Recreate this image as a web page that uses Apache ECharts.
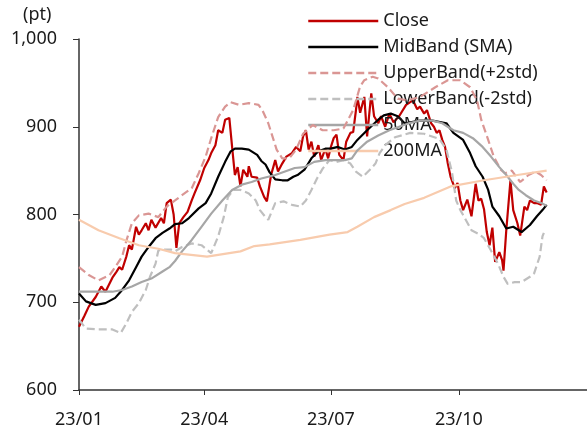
<!DOCTYPE html>
<html>
<head>
<meta charset="utf-8">
<script src="https://cdn.jsdelivr.net/npm/echarts@6/dist/echarts.min.js"></script>
<style>
  html, body { margin: 0; padding: 0; background: #fff; }
  #main { width: 587px; height: 432px; }
</style>
</head>
<body>
<div id="main"></div>
<script>
// days counted from 2023-01-01
const closeDays = [0,4,7,12,16,19,24,27,29,31, 34,36,38,41,43,45,48,50,52,55, 59,61,63,66,68,70,72,75,78,81,
  83,87,90,93,95,98,100,103,105,108, 110,112,114,116,118,121,122,124,128,130, 133,135,138,141,143,146,149,153,156,159,
  161,163,165,167,169,172,174,177,179,181, 183,185,187,190,192,195,197,199,200,202, 205,207,210,212,215,217,220,223,226,230,
  235,240,243,245,248,250,253,255,257,259, 261,263,265,267,270,272,274,276,279,282, 285,287,289,291,293,295,297,299,302,304,
  305,307,310,312,315,317,320,322,324,327, 329,332,334,336];
const closeVals = [672,685,695,706,718,712,728,735,740,737, 752,765,760,786,777,782,790,782,794,785, 796,790,813,817,800,762,790,797,803,816,
  824,839,853,862,870,879,896,893,908,910, 877,845,854,832,851,843,855,843,842,832, 820,815,845,862,849,858,866,870,877,872,
  889,896,874,883,866,879,862,875,864,877, 887,891,868,862,883,893,894,919,934,916, 934,889,938,912,904,912,900,915,905,912,
  925,930,920,923,915,919,904,900,893,896, 885,877,858,843,830,836,816,805,817,798, 835,816,818,806,780,765,785,746,757,748,
  736,782,839,805,790,776,809,805,816,813, 813,811,832,825];

const midDays = [0,5,12,19,26,31,36,41,45,50, 55,60,65,69,74,79,86,91,95,100, 105,109,112,117,122,128,131,134,137,141,
  146,150,154,157,162,167,172,177,181,186, 191,196,200,207,215,219,224,229,234,245, 254,264,269,276,281,285,290,294,297,302,
  307,312,318,324,329,333,336];
const midVals = [710,701,697,699,705,714,725,740,752,763, 773,779,784,789,790,796,807,813,824,843, 860,872,875,875,874,868,861,857,848,840,
  839,839,843,845,851,864,872,875,875,877, 874,877,885,896,908,913,915,912,904,907, 907,904,893,885,870,855,843,828,809,798,
  784,786,780,788,798,805,811];

const upperDays = [0,7,14,22,26,31,34,38,43,50, 57,63,69,74,81,86,91,95,100,105, 109,115,122,129,132,136,142,146,151,156,
  161,168,175,183,190,197,202,205,211,215, 222,229,236,245,256,265,274,281,286,289, 294,298,303,306,311,317,323,328,332,336];
const upperVals = [740,731,725,731,740,752,770,790,799,801, 797,809,816,822,830,847,866,887,911,923, 928,925,927,925,918,904,874,864,864,874,
  892,902,896,896,898,919,946,953,957,955, 945,932,930,934,945,953,953,945,930,908, 885,866,851,847,850,837,845,849,845,839];

const lowerDays = [0,5,14,24,30,34,38,43,48,51, 55,57,61,66,69,74,81,88,95,100, 104,107,111,116,122,127,130,134,136,141,
  147,153,159,163,167,171,175,180,185,190, 195,199,204,209,213,216,220,227,238,248, 259,264,268,271,274,282,287,291,296,301,
  305,308,313,318,324,327,331,333,334];
const lowerVals = [680,670,669,669,665,676,689,699,714,729, 744,759,760,760,758,763,767,765,756,775, 797,820,828,828,824,816,805,797,794,813,
  815,811,809,816,828,841,852,862,860,862, 858,849,843,851,858,870,879,888,893,892, 886,874,848,816,805,782,778,773,759,744,
  729,721,723,723,729,733,752,775,779];

const ma50Days = [0,24,31,38,45,52,60,65,69,74, 81,88,95,103,110,117,124,131,141,148, 155,162,169,177,184,191,196,200,207,215,
  223,230,237,245,254,261,269,276,283,290, 296,302,307,312,316,321,327,332,336];
const ma50Vals = [712,712,714,718,723,727,735,740,747,758, 771,786,801,816,828,834,837,841,845,849, 853,854,860,862,862,862,864,873,883,890,
  896,900,904,907,907,904,896,893,887,877, 866,854,845,835,828,822,816,813,810];

const ma200Days = [0,14,29,43,57,69,92,116,126,137, 159,180,193,200,212,224,234,248,267,291, 315,336];
const ma200Vals = [794,782,773,765,761,756,752,758,764,766, 771,777,780,786,797,805,812,819,832,839, 845,850];

const seriesNames = ['Close', 'MidBand (SMA)', 'UpperBand(+2std)', 'LowerBand(-2std)', '50MA', '200MA'];
const tickDays = [0, 90, 181, 273];   // 23/01/01, 23/04/01, 23/07/01, 23/10/01
const tickLabels = ['23/01', '23/04', '23/07', '23/10'];
const yTicks = [600, 700, 800, 900, 1000];

function pts(days, vals) {
  return days.map((d, i) => [d, vals[i]]);
}

const font = 'Noto Sans';
const fs = 18;
const myChart = echarts.init(document.getElementById('main'));

function line(name, data, color, dashed, z) {
  return {
    name: name,
    type: 'line',
    data: data,
    showSymbol: false,
    symbol: 'none',
    z: z,
    lineStyle: { color: color, width: 2.2, type: dashed ? [8, 4] : 'solid' },
    itemStyle: { color: color },
    emphasis: { disabled: true }
  };
}

myChart.setOption({
  animation: false,
  title: {
    text: '(pt)', left: 18, top: 1,
    textStyle: { fontSize: fs, fontWeight: 'normal', color: '#1a1a1a', fontFamily: font }
  },
  legend: {
    orient: 'vertical',
    left: 302, top: 7,
    itemWidth: 70, itemHeight: 14, itemGap: 8, selectedMode: false,
    itemStyle: { opacity: 0 },
    lineStyle: { width: 2.5 },
    textStyle: { fontSize: fs, color: '#1a1a1a', fontFamily: font },
    data: seriesNames
  },
  grid: { left: 79, right: 0, top: 39, bottom: 42 },
  xAxis: {
    type: 'value',
    min: 0, max: 365,
    axisLine: { lineStyle: { color: '#333', width: 1.5 } },
    axisTick: { show: true, length: 5, customValues: tickDays, lineStyle: { color: '#333' } },
    axisLabel: {
      customValues: tickDays,
      margin: 21,
      fontSize: fs, color: '#1a1a1a', fontFamily: font,
      formatter: v => tickLabels[tickDays.indexOf(v)] || ''
    },
    splitLine: { show: false }
  },
  yAxis: {
    type: 'value',
    min: yTicks[0], max: yTicks[yTicks.length - 1], interval: 100,
    axisLine: { show: true, lineStyle: { color: '#333', width: 1.5 } },
    axisTick: { show: true, length: 6, lineStyle: { color: '#333' } },
    axisLabel: {
      margin: 22, fontSize: fs, color: '#1a1a1a', fontFamily: font,
      formatter: v => v.toLocaleString('en-US')
    },
    splitLine: { show: false }
  },
  series: [
    line(seriesNames[0], pts(closeDays, closeVals), '#C00000', false, 2),
    line(seriesNames[1], pts(midDays, midVals), '#000000', false, 3),
    line(seriesNames[2], pts(upperDays, upperVals), '#DA9694', true, 4),
    line(seriesNames[3], pts(lowerDays, lowerVals), '#BFBFBF', true, 5),
    line(seriesNames[4], pts(ma50Days, ma50Vals), '#A6A6A6', false, 6),
    line(seriesNames[5], pts(ma200Days, ma200Vals), '#F8CBAD', false, 7)
  ]
});
</script>
</body>
</html>
